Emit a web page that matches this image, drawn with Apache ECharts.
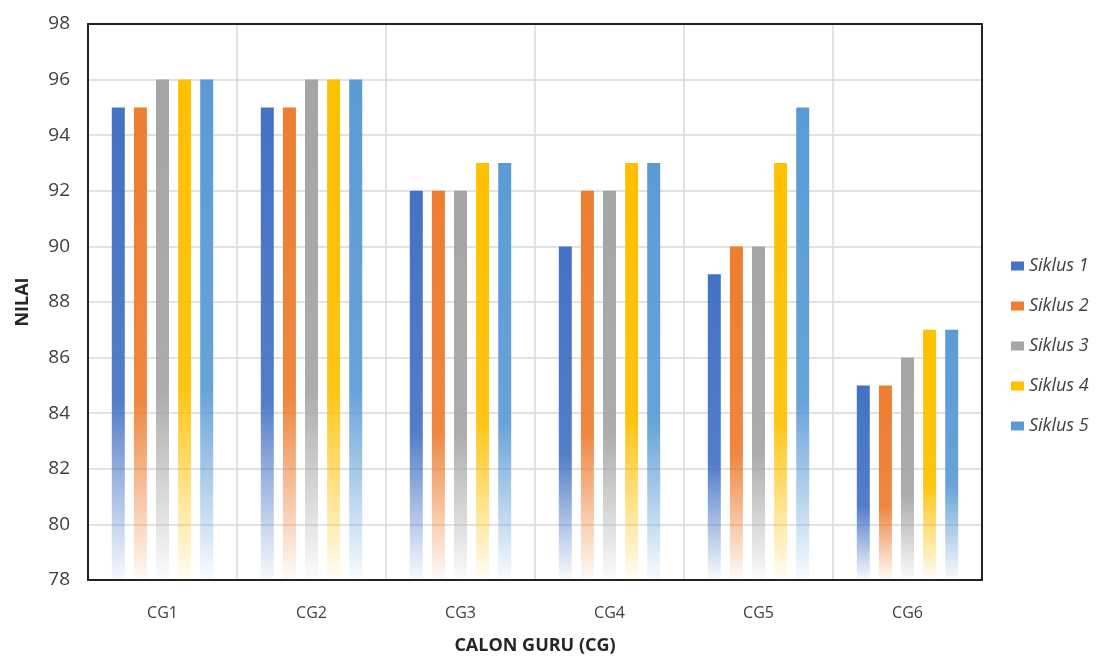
<!DOCTYPE html>
<html><head><meta charset="utf-8">
<script src="https://cdn.jsdelivr.net/npm/echarts@6/dist/echarts.min.js"></script>
<style>html,body{margin:0;padding:0;background:#fff}#c{width:1099px;height:660px}</style>
</head><body><div id="c"></div>
<script>
var categories = ['CG1','CG2','CG3','CG4','CG5','CG6'];
var seriesNames = ['Siklus 1','Siklus 2','Siklus 3','Siklus 4','Siklus 5'];
var siklus1 = [95,95,92,90,89,85];
var siklus2 = [95,95,92,92,90,85];
var siklus3 = [96,96,92,92,90,86];
var siklus4 = [96,96,93,93,93,87];
var siklus5 = [96,96,93,93,95,87];
var values = [siklus1,siklus2,siklus3,siklus4,siklus5];
var colors = ['#4472C4','#ED7D31','#A5A5A5','#FFC000','#5B9BD5'];

function hexA(h,a){var r=parseInt(h.substr(1,2),16),g=parseInt(h.substr(3,2),16),b=parseInt(h.substr(5,2),16);return 'rgba('+r+','+g+','+b+','+a+')';}
var font = '"Open Sans", "Noto Sans", sans-serif';
var border = {show:true,onZero:false,lineStyle:{color:'#222',width:2}};
var chart = echarts.init(document.getElementById('c'));
chart.setOption({
  animation:false,
  backgroundColor:'#fff',
  grid:{left:88,right:117,top:24,bottom:80},
  legend:{orient:'vertical',left:1006,top:252,itemGap:22,itemWidth:13,itemHeight:9,icon:'rect',
    textStyle:{fontFamily:font,fontSize:18,fontStyle:'italic',color:'#404040'},
    data:seriesNames.map(function(n,i){return {name:n,itemStyle:{color:colors[i]}};})},
  xAxis:[{type:'category',data:categories,
    name:'CALON GURU (CG)',nameLocation:'middle',nameGap:57,
    nameTextStyle:{fontFamily:font,fontSize:18,fontWeight:'bold',color:'#262626'},
    axisLine:border,axisTick:{show:false},
    axisLabel:{fontFamily:font,fontSize:16,color:'#404040',margin:25},
    splitLine:{show:true,lineStyle:{color:'#d9d9d9',width:1.5}}},
    {type:'category',data:categories,position:'top',axisLine:border,axisTick:{show:false},axisLabel:{show:false}}],
  yAxis:[{type:'value',min:78,max:98,interval:2,
    name:'NILAI',nameLocation:'middle',nameGap:56,
    nameTextStyle:{fontFamily:font,fontSize:18,fontWeight:'bold',color:'#262626'},
    axisLine:border,axisTick:{show:false},
    axisLabel:{fontFamily:font,fontSize:19,color:'#404040',margin:18},
    splitLine:{lineStyle:{color:'#d9d9d9',width:1.5}}},
    {type:'value',min:78,max:98,interval:2,position:'right',axisLine:border,axisTick:{show:false},axisLabel:{show:false},splitLine:{show:false}}],
  series:values.map(function(v,i){return {
    name:seriesNames[i],type:'bar',data:v,barWidth:13,barGap:'70%',
    itemStyle:{color:new echarts.graphic.LinearGradient(0,0,0,1,[
      {offset:0,color:colors[i]},{offset:0.62,color:hexA(colors[i],0.92)},{offset:0.8,color:hexA(colors[i],0.5)},{offset:1,color:hexA(colors[i],0.03)}])}
  };})
});
</script></body></html>
